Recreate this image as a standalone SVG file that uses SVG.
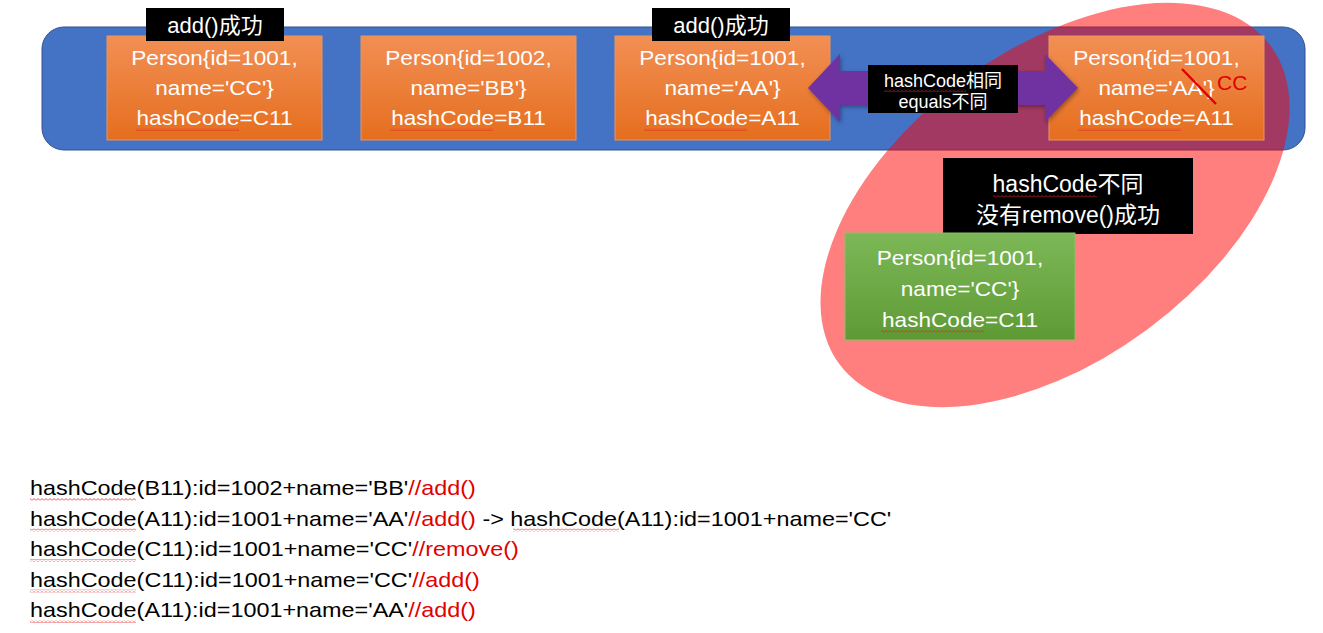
<svg xmlns="http://www.w3.org/2000/svg" width="1323" height="633" viewBox="0 0 1323 633">
<defs>
<style>
text{font-family:"Liberation Sans","Noto Sans CJK SC",sans-serif;}
.bt{fill:#fff;font-size:20px;text-anchor:middle;}
.lb{fill:#fff;text-anchor:middle;}
.code{fill:#000;font-size:20px;}
.red{fill:#E00000;}
.box{stroke:#E9965E;stroke-width:1;}
</style>
<linearGradient id="og" x1="0" y1="0" x2="0" y2="1">
<stop offset="0" stop-color="#F28F54"/>
<stop offset="1" stop-color="#E56E1E"/>
</linearGradient>
<linearGradient id="gg" x1="0" y1="0" x2="0" y2="1">
<stop offset="0" stop-color="#7DB858"/>
<stop offset="1" stop-color="#5E9A34"/>
</linearGradient>
<pattern id="sq" width="4" height="3" patternUnits="userSpaceOnUse">
<path d="M0,2.5 L2,0.5 L4,2.5" fill="none" stroke="#E02020" stroke-width="0.8"/>
</pattern>
<filter id="sh" x="-10%" y="-20%" width="120%" height="150%">
<feDropShadow dx="1" dy="2" stdDeviation="2" flood-color="#000" flood-opacity="0.35"/>
</filter>
</defs>

<g id="set">
<rect x="42" y="27" width="1263" height="123" rx="22" fill="#4472C4" stroke="#2F528F" stroke-width="1"/>
</g>

<g id="ellipse">
<ellipse cx="1055" cy="205" rx="268" ry="155" transform="rotate(-36.4 1055 205)" fill="#FF0000" fill-opacity="0.5"/>
</g>

<g id="p1">
<rect class="box" x="107" y="36" width="215" height="104" fill="url(#og)"/>
<g transform="translate(214.5 0) scale(1.13 1)">
<text class="bt" x="0" y="65">Person{id=1001,</text>
<text class="bt" x="0" y="95">name='CC'}</text>
<text class="bt" x="0" y="125">hashCode=C11</text>
</g>
<rect x="136" y="128" width="103" height="3" fill="url(#sq)"/>
</g>

<g id="p2">
<rect class="box" x="361" y="36" width="215" height="104" fill="url(#og)"/>
<g transform="translate(468.5 0) scale(1.13 1)">
<text class="bt" x="0" y="65">Person{id=1002,</text>
<text class="bt" x="0" y="95">name='BB'}</text>
<text class="bt" x="0" y="125">hashCode=B11</text>
</g>
<rect x="390" y="128" width="103" height="3" fill="url(#sq)"/>
</g>

<g id="p3">
<rect class="box" x="615" y="36" width="215" height="104" fill="url(#og)"/>
<g transform="translate(722.5 0) scale(1.13 1)">
<text class="bt" x="0" y="65">Person{id=1001,</text>
<text class="bt" x="0" y="95">name='AA'}</text>
<text class="bt" x="0" y="125">hashCode=A11</text>
</g>
<rect x="644" y="128" width="103" height="3" fill="url(#sq)"/>
</g>

<g id="p4">
<rect class="box" x="1049" y="36" width="215" height="104" fill="url(#og)"/>
<g transform="translate(1156.5 0) scale(1.13 1)">
<text class="bt" x="0" y="65">Person{id=1001,</text>
<text class="bt" x="0" y="95">name='AA'}</text>
<text class="bt" x="0" y="125">hashCode=A11</text>
</g>
<rect x="1078" y="128" width="103" height="3" fill="url(#sq)"/>
<line x1="1182" y1="69" x2="1216" y2="104" stroke="#E00000" stroke-width="2.5"/>
<text class="red" x="1217" y="90" font-size="21">CC</text>
</g>

<g id="add1">
<rect x="146" y="8" width="138" height="33" fill="#000"/>
<text class="lb" x="215" y="33" font-size="22">add()成功</text>
</g>
<g id="add2">
<rect x="652" y="8" width="138" height="33" fill="#000"/>
<text class="lb" x="721" y="33" font-size="22">add()成功</text>
</g>

<g id="connectors">
<path d="M808,88 L840,54 L840,71 L1045,71 L1045,54 L1078,88 L1045,122 L1045,105 L840,105 L840,122 Z" fill="#7030A0" filter="url(#sh)"/>
</g>

<g id="label1">
<rect x="868" y="65" width="150" height="48" fill="#000"/>
<text class="lb" x="943" y="87" font-size="18">hashCode相同</text>
<text class="lb" x="943" y="108" font-size="18">equals不同</text>
<rect x="884" y="89" width="82" height="3" fill="url(#sq)"/>
</g>

<g id="label2">
<rect x="943" y="158" width="250" height="76" fill="#000"/>
<text class="lb" x="1068" y="192" font-size="23">hashCode不同</text>
<text class="lb" x="1068" y="223" font-size="23">没有remove()成功</text>
<rect x="993" y="195" width="104" height="3" fill="url(#sq)"/>
</g>

<g id="p5">
<rect x="845" y="233" width="230" height="107" fill="url(#gg)" stroke="#8CC06A" stroke-width="1"/>
<g transform="translate(960 0) scale(1.13 1)">
<text class="bt" x="0" y="265">Person{id=1001,</text>
<text class="bt" x="0" y="296">name='CC'}</text>
<text class="bt" x="0" y="327">hashCode=C11</text>
</g>
<rect x="881" y="330" width="103" height="3" fill="url(#sq)"/>
</g>

<g id="log">
<text class="code" transform="translate(30 495) scale(1.17 1)">hashCode(B11):id=1002+name='BB'<tspan class="red">//add()</tspan></text>
<text class="code" transform="translate(30 525.5) scale(1.17 1)">hashCode(A11):id=1001+name='AA'<tspan class="red">//add()</tspan> -&gt; hashCode(A11):id=1001+name='CC'</text>
<text class="code" transform="translate(30 556) scale(1.17 1)">hashCode(C11):id=1001+name='CC'<tspan class="red">//remove()</tspan></text>
<text class="code" transform="translate(30 586.5) scale(1.17 1)">hashCode(C11):id=1001+name='CC'<tspan class="red">//add()</tspan></text>
<text class="code" transform="translate(30 617) scale(1.17 1)">hashCode(A11):id=1001+name='AA'<tspan class="red">//add()</tspan></text>
<rect x="30" y="498" width="106" height="3" fill="url(#sq)"/>
<rect x="30" y="528.5" width="106" height="3" fill="url(#sq)"/>
<rect x="513" y="528.5" width="106" height="3" fill="url(#sq)"/>
<rect x="30" y="559" width="106" height="3" fill="url(#sq)"/>
<rect x="30" y="589.5" width="106" height="3" fill="url(#sq)"/>
<rect x="30" y="620" width="106" height="3" fill="url(#sq)"/>
</g>
</svg>
